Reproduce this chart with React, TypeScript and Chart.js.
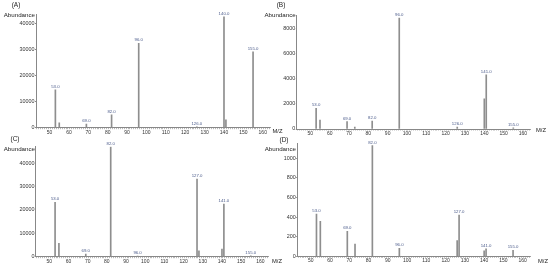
import React, { useEffect, useRef } from 'react';
import { Chart, registerables } from 'chart.js';

Chart.register(...registerables);

// ---- data (m/z and abundance) ----
const mzA = [53, 55, 69, 82, 96, 126, 140, 141, 155];
const abundanceA = [14500, 1900, 1400, 4900, 32300, 300, 42500, 3000, 29100];
const labelledA = [53, 69, 82, 96, 126, 140, 155];
const yTicksA = [0, 10000, 20000, 30000, 40000];

const mzB = [53, 55, 69, 73, 82, 96, 126, 140, 141, 155];
const abundanceB = [1640, 700, 580, 150, 635, 8800, 150, 2400, 4300, 100];
const labelledB = [53, 69, 82, 96, 126, 141, 155];
const yTicksB = [0, 2000, 4000, 6000, 8000];

const mzC = [53, 55, 69, 82, 96, 127, 128, 140, 141, 155];
const abundanceC = [23250, 5700, 1150, 47000, 300, 33200, 2560, 3300, 22500, 400];
const labelledC = [53, 69, 82, 96, 127, 141, 155];
const yTicksC = [0, 10000, 20000, 30000, 40000];

const mzD = [53, 55, 69, 73, 82, 96, 126, 127, 140, 141, 155];
const abundanceD = [432, 357, 255, 125, 1129, 82, 160, 421, 57, 75, 60];
const labelledD = [53, 69, 82, 96, 127, 141, 155];
const yTicksD = [0, 200, 400, 600, 800, 1000];

const xTicks = [50, 60, 70, 80, 90, 100, 110, 120, 130, 140, 150, 160];
const X_MIN = 43;
const X_MAX = 164;

const W = 550;
const H = 268;
const YW = 20; // fixed y-axis box width
const XH = 8; // fixed x-axis box height
const FONT = '"Liberation Sans", Arial, sans-serif';

type Panel = {
  letter: string;
  mz: number[];
  ab: number[];
  labelled: number[];
  yMax: number;
  yTicks: number[];
  area: { l: number; r: number; t: number; b: number };
  letterPos: [number, number];
  abundPos: [number, number];
  mzPos: [number, number];
};

const panels: Panel[] = [
  {
    letter: '(A)', mz: mzA, ab: abundanceA, labelled: labelledA, yMax: 43500, yTicks: yTicksA,
    area: { l: 36, r: 270.5, t: 14.2, b: 127.7 },
    letterPos: [16, 5.5], abundPos: [35, 15.7], mzPos: [272.5, 131],
  },
  {
    letter: '(B)', mz: mzB, ab: abundanceB, labelled: labelledB, yMax: 9000, yTicks: yTicksB,
    area: { l: 296.8, r: 530.7, t: 15.6, b: 129 },
    letterPos: [281, 5.7], abundPos: [295.7, 15.7], mzPos: [536, 130],
  },
  {
    letter: '(C)', mz: mzC, ab: abundanceC, labelled: labelledC, yMax: 47000, yTicks: yTicksC,
    area: { l: 35.9, r: 268, t: 146.7, b: 256.7 },
    letterPos: [15, 139.3], abundPos: [35, 149.7], mzPos: [272, 261],
  },
  {
    letter: '(D)', mz: mzD, ab: abundanceD, labelled: labelledD, yMax: 1150, yTicks: yTicksD,
    area: { l: 297.2, r: 530.4, t: 143.6, b: 256.3 },
    letterPos: [284, 140.7], abundPos: [296, 149.7], mzPos: [538, 261],
  },
];

function makeAnnotPlugin(p: Panel) {
  return {
    id: 'annot' + p.letter,
    afterDatasetsDraw(chart: any) {
      const ctx = chart.ctx as CanvasRenderingContext2D;
      const xs = chart.scales.x;
      const ys = chart.scales.y;
      ctx.save();
      // peak labels
      ctx.font = `4.3px ${FONT}`;
      ctx.fillStyle = '#4a5a8a';
      ctx.textAlign = 'center';
      ctx.textBaseline = 'bottom';
      p.mz.forEach((m, i) => {
        if (p.labelled.includes(m)) {
          ctx.fillText(m.toFixed(1), xs.getPixelForValue(m), ys.getPixelForValue(p.ab[i]) - 1);
        }
      });
      // panel letter
      ctx.fillStyle = '#222';
      ctx.font = `6.5px ${FONT}`;
      ctx.textAlign = 'center';
      ctx.textBaseline = 'middle';
      ctx.fillText(p.letter, p.letterPos[0], p.letterPos[1]);
      // Abundance
      ctx.font = `6.2px ${FONT}`;
      ctx.textAlign = 'right';
      ctx.fillText('Abundance', p.abundPos[0], p.abundPos[1]);
      // M/Z
      ctx.textAlign = 'left';
      ctx.font = `5.8px ${FONT}`;
      ctx.fillText('M/Z', p.mzPos[0], p.mzPos[1]);
      ctx.restore();
    },
  };
}

function PanelChart({ p }: { p: Panel }) {
  const ref = useRef<HTMLCanvasElement>(null);
  useEffect(() => {
    if (!ref.current) return;
    const { l, r, t, b } = p.area;
    const chart = new Chart(ref.current, {
      type: 'bar',
      data: {
        datasets: [
          {
            data: p.mz.map((m, i) => ({ x: m, y: p.ab[i] })),
            backgroundColor: '#8e8e8e',
            borderWidth: 0,
            barThickness: 1,
          },
        ],
      },
      options: {
        responsive: false,
        animation: false,
        events: [],
        layout: {
          padding: { left: l - YW, right: W - r, top: t, bottom: H - b - XH },
        },
        plugins: { legend: { display: false }, tooltip: { enabled: false } },
        scales: {
          x: {
            type: 'linear',
            min: X_MIN,
            max: X_MAX,
            offset: false,
            afterFit: (s: any) => { s.height = XH; },
            afterBuildTicks: (s: any) => {
              const ticks = [];
              for (let v = X_MIN; v <= X_MAX; v++) ticks.push({ value: v });
              s.ticks = ticks;
            },
            ticks: {
              autoSkip: false,
              maxRotation: 0,
              padding: 0,
              color: '#333',
              font: { family: FONT, size: 5 },
              callback: (v: any) => (xTicks.includes(Number(v)) ? String(v) : ''),
            },
            grid: { display: true, drawOnChartArea: false, drawTicks: true, tickLength: 1.5, color: '#8a8a8a', lineWidth: 0.6 },
            border: { display: true, color: '#888', width: 1 },
          },
          y: {
            type: 'linear',
            min: 0,
            max: p.yMax,
            afterFit: (s: any) => { s.width = YW; },
            afterBuildTicks: (s: any) => {
              s.ticks = p.yTicks.map((v) => ({ value: v }));
            },
            ticks: {
              padding: 0.5,
              color: '#333',
              font: { family: FONT, size: 5.4 },
              callback: (v: any) => String(v),
            },
            grid: { display: true, drawOnChartArea: false, drawTicks: true, tickLength: 1, color: '#888' },
            border: { display: true, color: '#888', width: 1 },
          },
        },
      },
      plugins: [makeAnnotPlugin(p)],
    } as any);
    return () => chart.destroy();
  }, [p]);
  return (
    <canvas
      ref={ref}
      width={W}
      height={H}
      style={{ position: 'absolute', left: 0, top: 0, width: W, height: H }}
    />
  );
}

export default function App() {
  return (
    <div style={{ position: 'fixed', left: 0, top: 0, width: W, height: H, background: '#fff' }}>
      {panels.map((p) => (
        <PanelChart key={p.letter} p={p} />
      ))}
    </div>
  );
}
